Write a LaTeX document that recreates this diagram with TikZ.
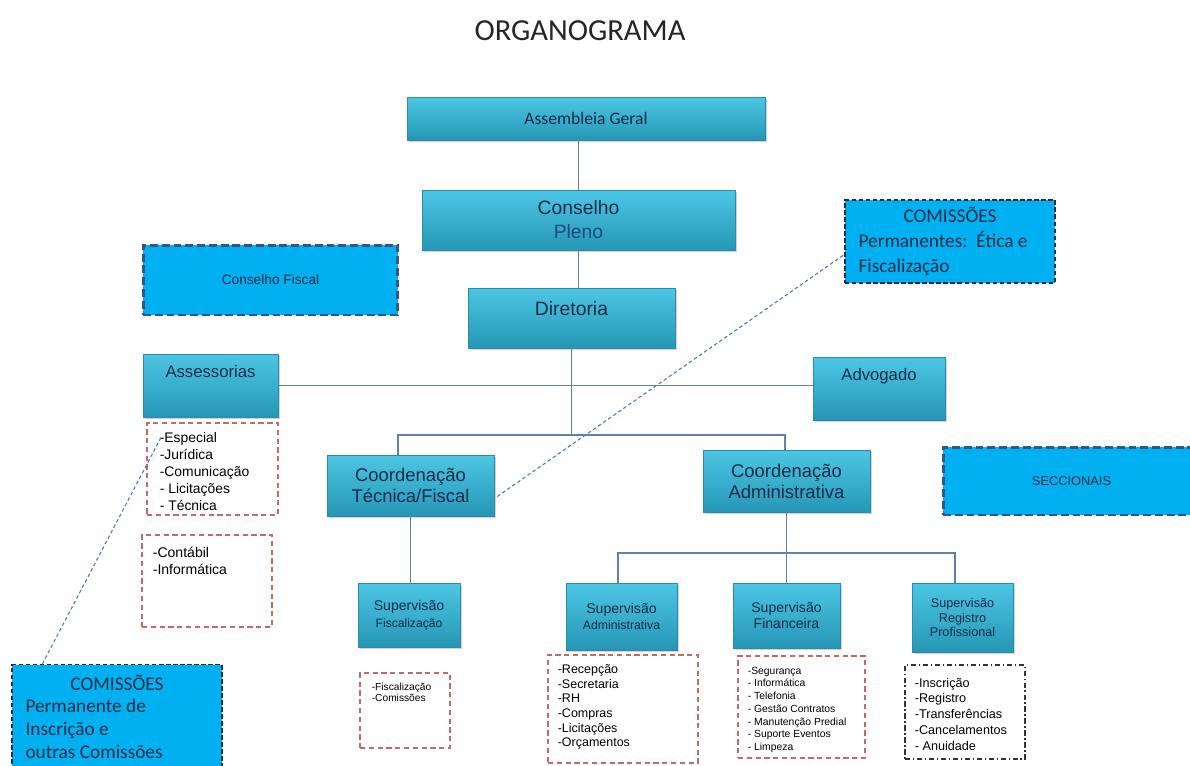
\documentclass[tikz,border=0pt]{standalone}
\usepackage{fontspec}
\setmainfont{Liberation Sans}
\newfontfamily\calibri{Carlito}
\usepackage{tikz}
\usetikzlibrary{shadows}
\usepackage{xcolor}
\definecolor{dfteal}{RGB}{38,150,182}
\definecolor{dftealtop}{RGB}{76,198,228}
\definecolor{dfedge}{RGB}{40,140,170}
\definecolor{dfcyan}{RGB}{0,176,240}
\definecolor{dfnavy}{RGB}{52,84,138}
\definecolor{dfink}{RGB}{23,44,72}
\definecolor{dfpleno}{RGB}{31,73,125}
\definecolor{dfline}{RGB}{96,130,166}
\definecolor{dfdash}{RGB}{74,120,180}
\definecolor{dfred}{RGB}{196,104,104}
\tikzstyle{orgbox} = [rectangle, draw=dfedge, line width=0.3pt, top color=dftealtop, bottom color=dfteal, text=dfink, align=center, inner sep=1pt, drop shadow={opacity=0.35, shadow xshift=1pt, shadow yshift=-1.2pt}]
\tikzstyle{dashbox} = [rectangle, fill=dfcyan, draw=dfnavy, line width=1.7pt, dash pattern=on 4.5pt off 2.2pt, text=dfink]
\tikzstyle{comissao} = [rectangle, fill=dfcyan, draw=dfink, line width=0.8pt, dash pattern=on 2.5pt off 1.5pt, text=dfink, align=flush left, text width=3.66cm, inner xsep=0.27cm]
\tikzstyle{listbox} = [rectangle, draw=dfred, line width=0.6pt, dash pattern=on 3pt off 2pt]
\tikzstyle{listtext} = [anchor=north west, inner sep=0pt, align=left, text=black]
\tikzstyle{link} = [draw=dfline, line width=0.8pt]
\tikzstyle{dotlink} = [draw=dfdash, line width=0.6pt, dash pattern=on 2pt off 1.5pt]

\begin{document}
\begin{tikzpicture}[x=0.02cm, y=-0.02cm]
\useasboundingbox (0,0) rectangle (1190,765);
% Title
\node[font=\calibri\fontsize{17.4}{20}\selectfont, text=black!85] (title) at (580,31) {ORGANOGRAMA};

% Top of the chart
\node[orgbox, minimum width=7.16cm, minimum height=0.86cm, font=\calibri\fontsize{10}{12}\selectfont] (asm) at (586,118.5) {Assembleia Geral};
\node[orgbox, minimum width=6.26cm, minimum height=1.2cm, font=\fontsize{11}{13.6}\selectfont] (cpl) at (578.5,220) {Conselho\\\textcolor{dfpleno}{Pleno}};
\node[orgbox, minimum width=4.14cm, minimum height=1.2cm, text depth=0.4cm, font=\fontsize{11}{13}\selectfont] (dir) at (571.5,318) {Diretoria};

% Side boxes
\node[dashbox, minimum width=5.1cm, minimum height=1.4cm, font=\fontsize{7.8}{9}\selectfont] (cfis) at (270.5,280) {Conselho Fiscal};
\node[comissao, minimum height=1.66cm, font=\calibri\fontsize{11}{14}\selectfont] (comA) at (950,241.5) {\hfill COMISSÕES\hfill\null\\Permanentes:\ \ Ética e\\Fiscalização};
\node[orgbox, minimum width=2.7cm, minimum height=1.26cm, text depth=0.58cm, font=\fontsize{9.5}{11}\selectfont] (ass) at (210.5,385.5) {Assessorias};
\node[orgbox, minimum width=2.64cm, minimum height=1.26cm, text depth=0.58cm, font=\fontsize{9.5}{11}\selectfont] (adv) at (879,388.5) {Advogado};

% Coordenacoes
\node[orgbox, minimum width=3.34cm, minimum height=1.22cm, font=\fontsize{10.5}{12}\selectfont] (cte) at (410.5,485.5) {Coordenação\\Técnica/Fiscal};
\node[orgbox, minimum width=3.34cm, minimum height=1.24cm, font=\fontsize{10.5}{12}\selectfont] (cad) at (786.5,481) {Coordenação\\Administrativa};
\node[dashbox, minimum width=5.14cm, minimum height=1.36cm, font=\fontsize{7.3}{9}\selectfont] (sec) at (1071.5,481) {SECCIONAIS};

% Assessorias lists
\node[listbox, minimum width=2.62cm, minimum height=1.84cm] (assBox) at (212.5,469) {};
\node[listtext, font=\fontsize{7.9}{9.6}\selectfont] (assTxt) at ([shift={(13,10)}]assBox.north west) {-Especial\\-Jurídica\\-Comunicação\\- Licitações\\- Técnica};
\node[listbox, minimum width=2.6cm, minimum height=1.84cm] (ctbBox) at (207,581) {};
\node[listtext, font=\fontsize{8}{9.6}\selectfont] (ctbTxt) at ([shift={(11,12)}]ctbBox.north west) {-Contábil\\-Informática};

% Commission at the bottom left
\node[comissao, anchor=north, inner ysep=0.2cm, font=\calibri\fontsize{11}{13}\selectfont] (comB) at (117,664) {\hfill COMISSÕES\hfill\null\\Permanente de\\Inscrição e\\outras Comissões};

% Supervisoes
\node[orgbox, minimum width=2.04cm, minimum height=1.28cm, font=\fontsize{8}{9.5}\selectfont] (sfi) at (409,615) {Supervisão\\{\fontsize{6.9}{8}\selectfont Fiscalização}};
\node[orgbox, minimum width=2.22cm, minimum height=1.34cm, font=\fontsize{8}{9.5}\selectfont] (sad) at (621.5,616.5) {Supervisão\\{\fontsize{7}{8}\selectfont Administrativa}};
\node[orgbox, minimum width=2.14cm, minimum height=1.3cm, font=\fontsize{8}{9.6}\selectfont] (sfn) at (786.5,615.5) {Supervisão\\Financeira};
\node[orgbox, minimum width=2.02cm, minimum height=1.38cm, font=\fontsize{7.2}{8}\selectfont] (srp) at (962.5,617.5) {Supervisão\\Registro\\Profissional};

% Supervisao lists
\node[listbox, minimum width=1.8cm, minimum height=1.5cm] (fisBox) at (405,710.5) {};
\node[listtext, font=\fontsize{5.8}{6.4}\selectfont] (fisTxt) at ([shift={(12,10)}]fisBox.north west) {-Fiscalização\\-Comissões};
\node[listbox, minimum width=3cm, minimum height=2.16cm] (admBox) at (623,709) {};
\node[listtext, font=\fontsize{7.1}{8.3}\selectfont] (admTxt) at ([shift={(10,10)}]admBox.north west) {-Recepção\\-Secretaria\\-RH\\-Compras\\-Licitações\\-Orçamentos};
\node[listbox, minimum width=2.54cm, minimum height=2.04cm] (finBox) at (801.5,707) {};
\node[listtext, font=\fontsize{5.9}{7.25}\selectfont] (finTxt) at ([shift={(10,11)}]finBox.north west) {-Segurança\\- Informática\\- Telefonia\\- Gestão Contratos\\- Manutenção Predial\\- Suporte Eventos\\- Limpeza};
\node[listbox, draw=black!80, dash pattern=on 3pt off 1.5pt on 0.8pt off 1.5pt, minimum width=2.4cm, minimum height=1.88cm] (regBox) at (965,712) {};
\node[listtext, font=\fontsize{7.2}{9}\selectfont] (regTxt) at ([shift={(10,13)}]regBox.north west) {-Inscrição\\-Registro\\-Transferências\\-Cancelamentos\\- Anuidade};

% Connectors
\coordinate (hub) at (571.5,435);
\coordinate (jt) at (398,435);
\coordinate (ja) at (785,435);
\coordinate (bus) at (786.5,553);
\coordinate (bl) at (618,553);
\coordinate (br) at (955,553);
\draw[link] (asm.south -| cpl.north) -- (cpl.north);
\draw[link] (cpl.south) -- (cpl.south |- dir.north);
\draw[link] (dir.south) -- (hub);
\draw[link] (ass.east) -- (ass.east -| adv.west);
\draw[link] (jt |- cte.north) -- (jt) -- (ja) -- (ja |- cad.north);
\draw[link] (cte.south) -- (cte.south |- sfi.north);
\draw[link] (cad.south) -- (bus);
\draw[link] (bl |- sad.north) -- (bl) -- (br) -- (br |- srp.north);
\draw[link] (bus) -- (bus |- sfn.north);

% Dashed links to the commissions
\draw[dotlink] ([shift={(3,11)}]cte.east) -- ([shift={(0,13)}]comA.west);
\draw[dotlink] ([shift={(31,0)}]comB.north west) -- ([shift={(15,14)}]assBox.north west);
\end{tikzpicture}
\end{document}
